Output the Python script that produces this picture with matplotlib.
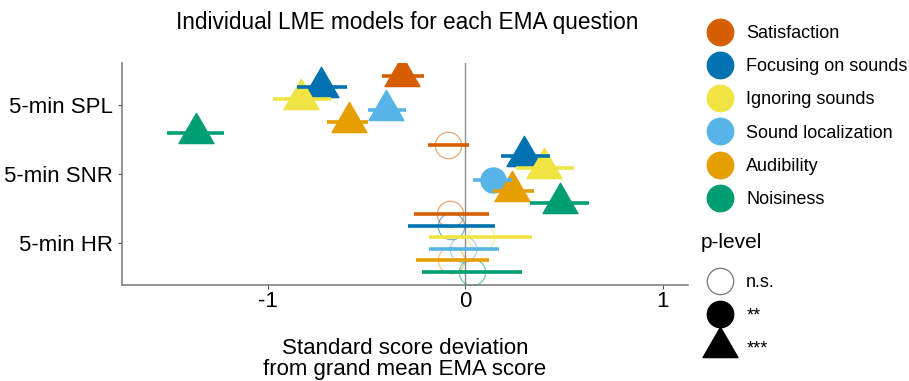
import numpy as np
import matplotlib.pyplot as plt
from matplotlib.lines import Line2D
from matplotlib.path import Path
from matplotlib.colors import to_rgba

plt.rcParams['font.family'] = ['Liberation Sans', 'DejaVu Sans']

questions = ["Satisfaction", "Focusing on sounds", "Ignoring sounds",
             "Sound localization", "Audibility", "Noisiness"]
colors = ["#D55E00", "#0072B2", "#F0E442", "#56B4E9", "#E69F00", "#009E73"]
predictors = ["5-min SPL", "5-min SNR", "5-min HR"]

# estimates and 95% CI, one list per predictor (order = questions)
spl_est = [-0.32, -0.73, -0.83, -0.40, -0.59, -1.36]
spl_lo = [-0.42, -0.85, -0.97, -0.49, -0.70, -1.51]
spl_hi = [-0.21, -0.60, -0.68, -0.30, -0.49, -1.22]
spl_p = ["***", "***", "***", "***", "***", "***"]

snr_est = [-0.085, 0.30, 0.40, 0.14, 0.24, 0.48]
snr_lo = [-0.19, 0.18, 0.26, 0.04, 0.14, 0.33]
snr_hi = [0.02, 0.43, 0.55, 0.24, 0.35, 0.63]
snr_p = ["n.s.", "***", "***", "**", "***", "***"]

hr_est = [-0.075, -0.07, 0.08, -0.01, -0.07, 0.035]
hr_lo = [-0.26, -0.29, -0.18, -0.18, -0.25, -0.22]
hr_hi = [0.12, 0.15, 0.34, 0.17, 0.12, 0.29]
hr_p = ["n.s.", "n.s.", "n.s.", "n.s.", "n.s.", "n.s."]

p_levels = ["n.s.", "**", "***"]

est = [spl_est, snr_est, hr_est]
lo = [spl_lo, snr_lo, hr_lo]
hi = [spl_hi, snr_hi, hr_hi]
pv = [spl_p, snr_p, hr_p]

# centroid-centred equilateral triangle (like ggplot shape 17)
tri = Path([(0, 1), (-0.866, -0.5), (0.866, -0.5), (0, 1)],
           [Path.MOVETO, Path.LINETO, Path.LINETO, Path.CLOSEPOLY])

fig = plt.figure(figsize=(9.09, 3.81), dpi=100)
ax = fig.add_axes([122/909, 1-284.5/381, 566/909, 221.5/381])

ax.axvline(0, color="#8c8c8c", lw=1.0, zorder=1)

ypos = [2, 1, 0]
for i, pred in enumerate(predictors):
    for j, q in enumerate(questions):
        y = ypos[i] + (2.5 - j) / 6
        c = colors[j]
        p = pv[i][j]
        if p == "n.s.":
            ax.plot(est[i][j], y, marker="o", ms=19, ls="", mfc="none",
                    mec=to_rgba(c, 0.55), mew=0.9, zorder=2)
        elif p == "**":
            ax.plot(est[i][j], y, marker="o", ms=18, ls="", color=c, zorder=2)
        else:
            ax.plot(est[i][j], y, marker=tri, ms=29, ls="", color=c, zorder=2)
        ax.hlines(y, lo[i][j], hi[i][j], color=c, lw=2.6, zorder=3)

ax.set_xlim(-1.737, 1.129)
ax.set_ylim(-0.6, 2.6)
ax.set_xticks([-1, 0, 1])
ax.set_xticklabels(["-1", "0", "1"])
ax.set_yticks(ypos)
ax.set_yticklabels(predictors)
ax.tick_params(labelsize=16, colors="#555555", length=3, width=0.8, labelcolor="black")
ax.tick_params(axis="x", pad=1.5)
for s in ["top", "right"]:
    ax.spines[s].set_visible(False)
for s in ["left", "bottom"]:
    ax.spines[s].set_color("#777777")
    ax.spines[s].set_linewidth(1.1)
ax.set_xlabel("Standard score deviation\nfrom grand mean EMA score",
              fontsize=16, labelpad=19, linespacing=1.0)

fig.text(407/909, 1-22/381, "Individual LME models for each EMA question",
         ha="center", va="center", fontsize=16.3)

# legend: EMA question colours
h1 = [Line2D([], [], ls="", marker="o", ms=19, color=c) for c in colors]
leg1 = fig.legend(h1, questions, loc="upper left",
                  bbox_to_anchor=(702/909, 1-25/381), frameon=False,
                  fontsize=13, borderpad=0, borderaxespad=0,
                  handlelength=2.0, handletextpad=0.45, labelspacing=0.9)

# legend: p-level
fig.text(701/909, 1-243/381, "p-level", ha="left", va="center", fontsize=15)
h2 = [Line2D([], [], ls="", marker="o", ms=19, mfc="none", mec="#777777", mew=0.9),
      Line2D([], [], ls="", marker="o", ms=19, color="black"),
      Line2D([], [], ls="", marker=tri, ms=29, color="black")]
leg2 = fig.legend(h2, p_levels, loc="upper left",
                  bbox_to_anchor=(702/909, 1-274/381), frameon=False,
                  fontsize=13, borderpad=0, borderaxespad=0,
                  handlelength=2.0, handletextpad=0.45, labelspacing=0.9)

fig.savefig("out.png", dpi=100)
